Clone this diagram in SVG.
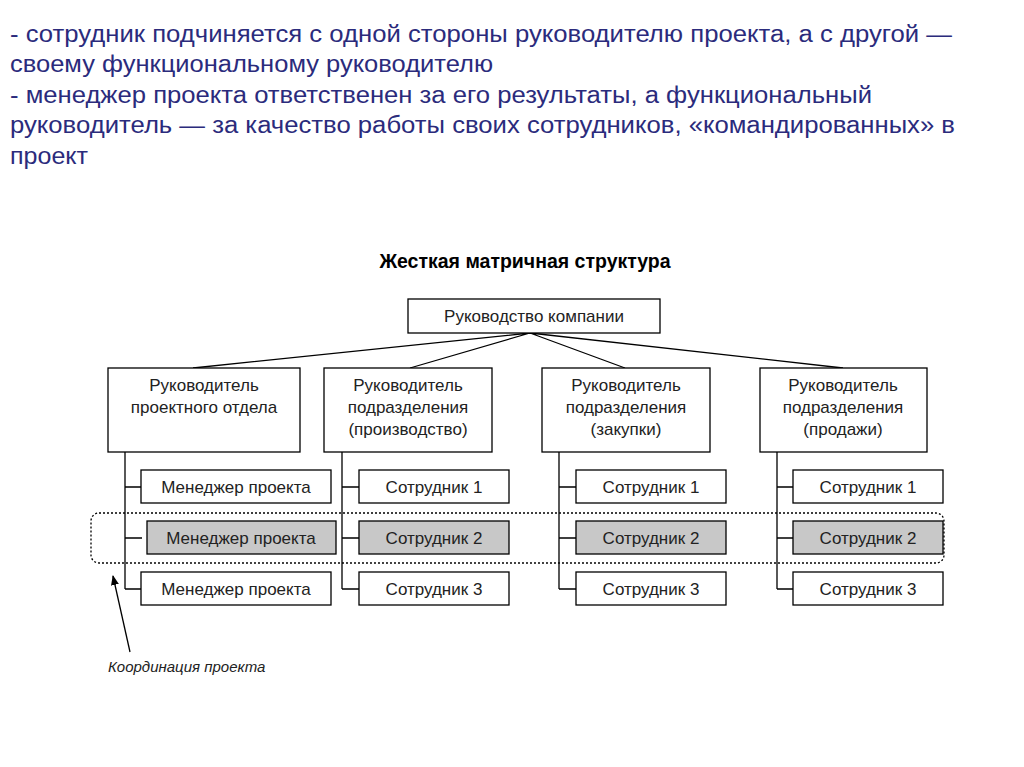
<svg xmlns="http://www.w3.org/2000/svg" width="1024" height="767" viewBox="0 0 1024 767">
<style>
.t{font-family:"Liberation Sans",Arial,sans-serif;font-size:23px;fill:#2b2b7c}
.b{fill:#fff;stroke:#000;stroke-width:1.3}
.g{fill:#c8c8c8;stroke:#000;stroke-width:1.3}
.l{font-family:"Liberation Sans",Arial,sans-serif;font-size:17px;fill:#222;text-anchor:middle}
.c{stroke:#000;stroke-width:1.3;fill:none}
</style>
<defs><marker id="ah" markerWidth="10" markerHeight="10" refX="9" refY="5" orient="auto" markerUnits="userSpaceOnUse"><path d="M0,1 L10,5 L0,9 Z" fill="#000"/></marker></defs>
<rect width="1024" height="767" fill="#fff"/>
<g id="text">
<text class="t" x="10" y="42" textLength="942" lengthAdjust="spacingAndGlyphs">- сотрудник подчиняется с одной стороны руководителю проекта, а с другой —</text>
<text class="t" x="10" y="72" textLength="483" lengthAdjust="spacingAndGlyphs">своему функциональному руководителю</text>
<text class="t" x="10" y="103" textLength="862" lengthAdjust="spacingAndGlyphs">- менеджер проекта ответственен за его результаты, а функциональный</text>
<text class="t" x="10" y="133" textLength="945" lengthAdjust="spacingAndGlyphs">руководитель — за качество работы своих сотрудников, «командированных» в</text>
<text class="t" x="10" y="164" textLength="78" lengthAdjust="spacingAndGlyphs">проект</text>
<text x="525" y="268" font-family="Liberation Sans,Arial,sans-serif" font-size="19.5" font-weight="bold" text-anchor="middle" fill="#000">Жесткая матричная структура</text>
</g>
<g id="connectors" class="c">
<path d="M530 333 L193 368 M530 333 L410 368 M530 333 L625 368 M530 333 L843 368"/>
<path d="M125 452 V589 M125 487 H141 M125 538 H142 M125 589 H141"/>
<path d="M342 452 V589 M342 487 H359 M342 538 H359 M342 589 H359"/>
<path d="M559 452 V589 M559 487 H576 M559 538 H576 M559 589 H576"/>
<path d="M777 452 V589 M777 487 H793 M777 538 H793 M777 589 H793"/>
<rect x="91" y="513" width="853" height="50" rx="8" stroke-dasharray="2,2"/>
<path d="M130 652 L113 576" marker-end="url(#ah)"/>
</g>
<g id="top"><rect class="b" x="408" y="299" width="252" height="34"/><text class="l" x="534" y="322">Руководство компании</text></g>
<g id="n1"><rect class="b" x="108" y="368" width="192" height="84"/><text class="l" x="204" y="391">Руководитель</text><text class="l" x="204" y="413">проектного отдела</text></g>
<g id="n2"><rect class="b" x="324" y="368" width="168" height="84"/><text class="l" x="408" y="391">Руководитель</text><text class="l" x="408" y="413">подразделения</text><text class="l" x="408" y="435">(производство)</text></g>
<g id="n3"><rect class="b" x="542" y="368" width="168" height="84"/><text class="l" x="626" y="391">Руководитель</text><text class="l" x="626" y="413">подразделения</text><text class="l" x="626" y="435">(закупки)</text></g>
<g id="n4"><rect class="b" x="760" y="368" width="167" height="84"/><text class="l" x="843" y="391">Руководитель</text><text class="l" x="843" y="413">подразделения</text><text class="l" x="843" y="435">(продажи)</text></g>
<g id="m1"><rect class="b" x="141" y="470" width="190" height="33"/><text class="l" x="236" y="493">Менеджер проекта</text></g>
<g id="m2"><rect class="g" x="147" y="521" width="189" height="33"/><text class="l" x="241" y="544">Менеджер проекта</text></g>
<g id="m3"><rect class="b" x="141" y="572" width="190" height="33"/><text class="l" x="236" y="595">Менеджер проекта</text></g>
<g id="p1"><rect class="b" x="359" y="470" width="150" height="33"/><text class="l" x="434" y="493">Сотрудник 1</text></g>
<g id="p2"><rect class="g" x="359" y="521" width="150" height="33"/><text class="l" x="434" y="544">Сотрудник 2</text></g>
<g id="p3"><rect class="b" x="359" y="572" width="150" height="33"/><text class="l" x="434" y="595">Сотрудник 3</text></g>
<g id="z1"><rect class="b" x="576" y="470" width="150" height="33"/><text class="l" x="651" y="493">Сотрудник 1</text></g>
<g id="z2"><rect class="g" x="576" y="521" width="150" height="33"/><text class="l" x="651" y="544">Сотрудник 2</text></g>
<g id="z3"><rect class="b" x="576" y="572" width="150" height="33"/><text class="l" x="651" y="595">Сотрудник 3</text></g>
<g id="s1"><rect class="b" x="793" y="470" width="150" height="33"/><text class="l" x="868" y="493">Сотрудник 1</text></g>
<g id="s2"><rect class="g" x="793" y="521" width="150" height="33"/><text class="l" x="868" y="544">Сотрудник 2</text></g>
<g id="s3"><rect class="b" x="793" y="572" width="150" height="33"/><text class="l" x="868" y="595">Сотрудник 3</text></g>
<text x="108" y="672" font-family="Liberation Sans,Arial,sans-serif" font-size="15" font-style="italic" fill="#222">Координация проекта</text>
</svg>
